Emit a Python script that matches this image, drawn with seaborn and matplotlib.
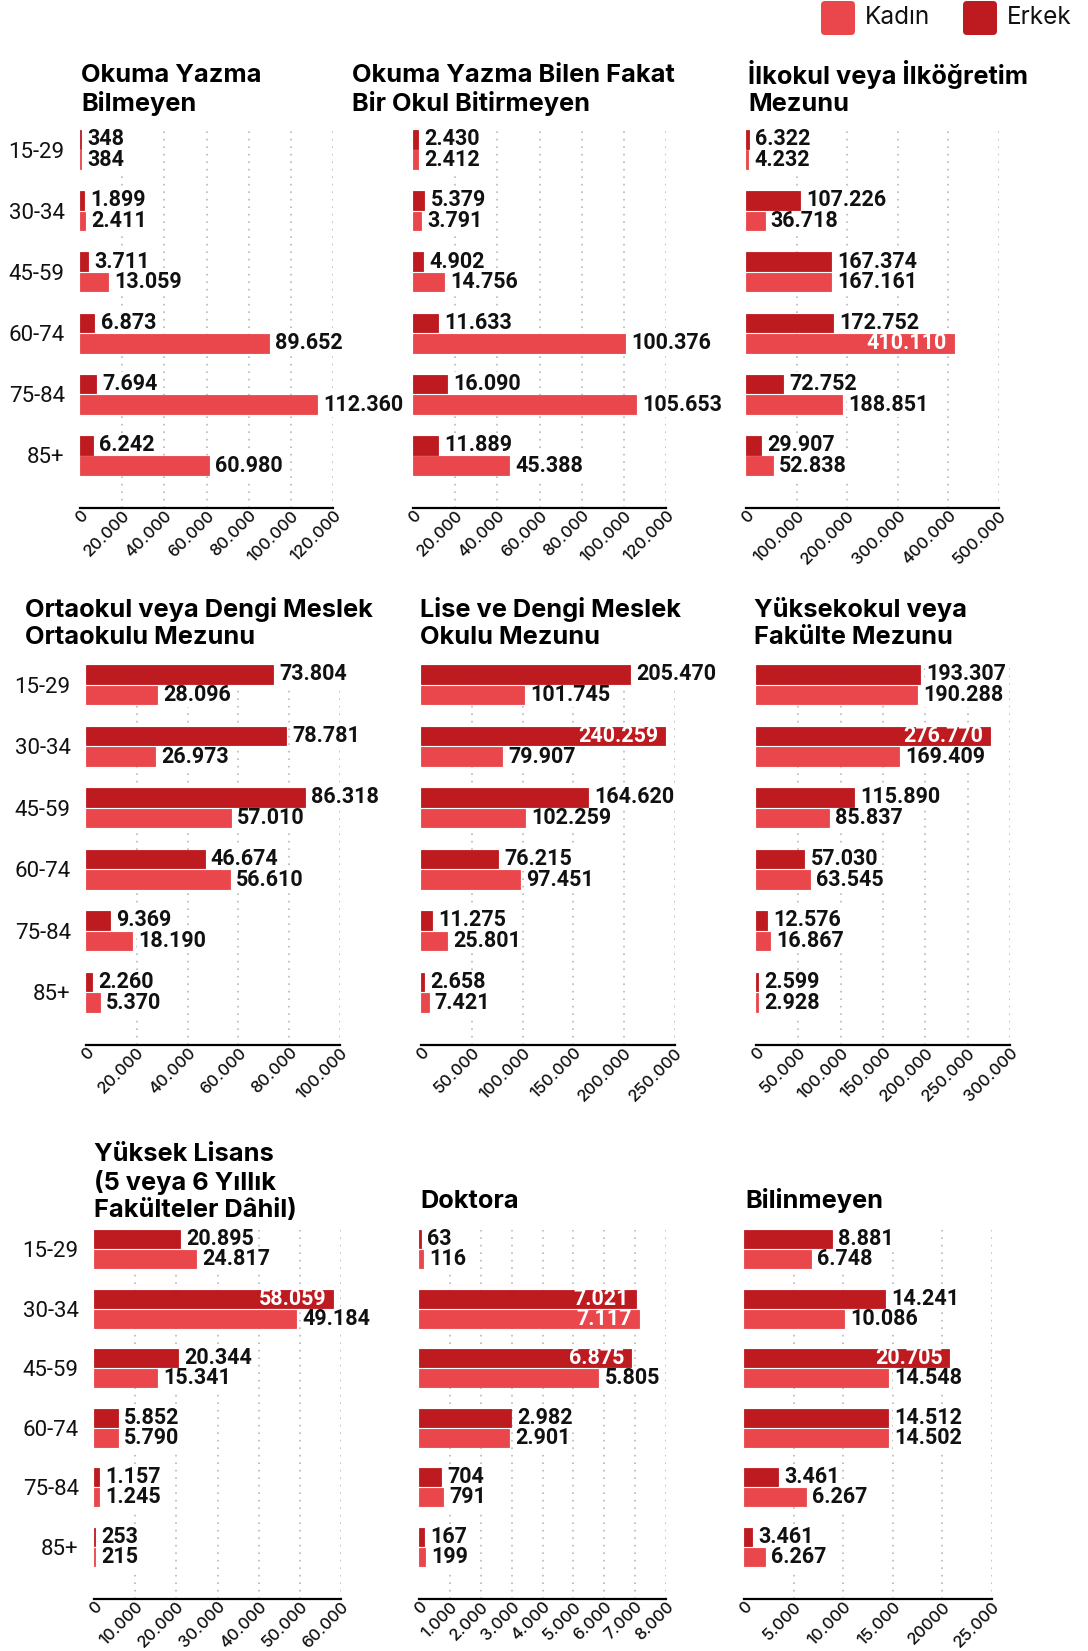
"""
Eğitim durumu ve yaş grubuna göre nüfus (Kadın / Erkek) — 3x3 yatay bar paneli
"""
import numpy as np
import pandas as pd
import matplotlib
matplotlib.use("Agg")
import matplotlib.pyplot as plt
import seaborn as sns
from matplotlib.patches import FancyBboxPatch

sns.set_theme(style="white")
plt.rcParams["font.family"] = ["Roboto", "DejaVu Sans"]

W, H = 1088, 1651
ERKEK = "#BE1B21"
KADIN = "#E9474C"
GRID = "#B8B8B8"
INK = "#111111"
TITLE_FONT = ["Inter", "DejaVu Sans"]
NUM_FONT = ["Roboto", "DejaVu Sans"]

# ── Data ──────────────────────────────────────────────────────────────────────
AGES = ["15-29", "30-34", "45-59", "60-74", "75-84", "85+"]
SEXES = ["Erkek", "Kadın"]

okuma_yazma_bilmeyen_e = [348, 1899, 3711, 6873, 7694, 6242]
okuma_yazma_bilmeyen_k = [384, 2411, 13059, 89652, 112360, 60980]
okul_bitirmeyen_e = [2430, 5379, 4902, 11633, 16090, 11889]
okul_bitirmeyen_k = [2412, 3791, 14756, 100376, 105653, 45388]
ilkokul_e = [6322, 107226, 167374, 172752, 72752, 29907]
ilkokul_k = [4232, 36718, 167161, 410110, 188851, 52838]
ortaokul_e = [73804, 78781, 86318, 46674, 9369, 2260]
ortaokul_k = [28096, 26973, 57010, 56610, 18190, 5370]
lise_e = [205470, 240259, 164620, 76215, 11275, 2658]
lise_k = [101745, 79907, 102259, 97451, 25801, 7421]
fakulte_e = [193307, 276770, 115890, 57030, 12576, 2599]
fakulte_k = [190288, 169409, 85837, 63545, 16867, 2928]
yuksek_lisans_e = [20895, 58059, 20344, 5852, 1157, 253]
yuksek_lisans_k = [24817, 49184, 15341, 5790, 1245, 215]
doktora_e = [63, 7021, 6875, 2982, 704, 167]
doktora_k = [116, 7117, 5805, 2901, 791, 199]
bilinmeyen_e = [8881, 14241, 20705, 14512, 3461, 800]
bilinmeyen_k = [6748, 10086, 14548, 14502, 6267, 2120]
# in the source the 85+ row of "Bilinmeyen" repeats the 75-84 numbers
bilinmeyen_e_labels = ["8.881", "14.241", "20.705", "14.512", "3.461", "3.461"]
bilinmeyen_k_labels = ["6.748", "10.086", "14.548", "14.502", "6.267", "6.267"]
bilinmeyen_ticklabels = ["0", "5.000", "10.000", "15.000", "20000", "25.000"]


def fmt(v):
    return f"{int(v):,}".replace(",", ".")


# ── Layout (pixels) ───────────────────────────────────────────────────────────
# per row: bar top, last bar bottom, axis line
ROWS = [(130, 475, 508), (665, 1012, 1045), (1230, 1566, 1599)]
# t = (x, baseline of the last title line)
PANELS = [
    dict(title="Okuma Yazma\nBilmeyen", e=okuma_yazma_bilmeyen_e, k=okuma_yazma_bilmeyen_k,
         xmax=120000, step=20000, row=0, x=(80, 333), t=(81, 111), ages=True),
    dict(title="Okuma Yazma Bilen Fakat\nBir Okul Bitirmeyen", e=okul_bitirmeyen_e, k=okul_bitirmeyen_k,
         xmax=120000, step=20000, row=0, x=(413, 666), t=(352, 111)),
    dict(title="İlkokul veya İlköğretim\nMezunu", e=ilkokul_e, k=ilkokul_k,
         xmax=500000, step=100000, row=0, x=(746, 999), t=(748, 111), inside=[(1, 3)]),
    dict(title="Ortaokul veya Dengi Meslek\nOrtaokulu Mezunu", e=ortaokul_e, k=ortaokul_k,
         xmax=100000, step=20000, row=1, x=(86, 340), t=(25, 644), ages=True),
    dict(title="Lise ve Dengi Meslek\nOkulu Mezunu", e=lise_e, k=lise_k,
         xmax=250000, step=50000, row=1, x=(421, 675), t=(420, 644), inside=[(0, 1)]),
    dict(title="Yüksekokul veya\nFakülte Mezunu", e=fakulte_e, k=fakulte_k,
         xmax=300000, step=50000, row=1, x=(756, 1010), t=(754, 644), inside=[(0, 1)]),
    dict(title="Yüksek Lisans\n(5 veya 6 Yıllık\nFakülteler Dâhil)", e=yuksek_lisans_e, k=yuksek_lisans_k,
         xmax=60000, step=10000, row=2, x=(94, 341), t=(94, 1217), ages=True, inside=[(0, 1)]),
    dict(title="Doktora", e=doktora_e, k=doktora_k,
         xmax=8000, step=1000, row=2, x=(419, 666), t=(420, 1208), inside=[(0, 1), (1, 1), (0, 2)]),
    dict(title="Bilinmeyen", e=bilinmeyen_e, k=bilinmeyen_k,
         xmax=25000, step=5000, row=2, x=(744, 992), t=(745, 1208), inside=[(0, 2)],
         e_labels=bilinmeyen_e_labels, k_labels=bilinmeyen_k_labels, ticklabels=bilinmeyen_ticklabels),
]

BAR_W, BAR_GAP = 0.67, 0.09
HALF = BAR_W / 2 * (1 - BAR_GAP) / 2 + BAR_W / 4   # edge of outer bar from category centre

fig = plt.figure(figsize=(W / 100, H / 100), dpi=100)

# overlay axes in pixel units for titles and legend
ov = fig.add_axes([0, 0, 1, 1])
ov.set_xlim(0, W); ov.set_ylim(H, 0); ov.axis("off")

for i, (name, col) in enumerate([("Kadın", KADIN), ("Erkek", ERKEK)]):
    x0 = [821, 963][i]
    ov.add_patch(FancyBboxPatch((x0, 1), 34, 34, boxstyle="round,pad=0,rounding_size=4",
                                fc=col, ec="none"))
    ov.text(x0 + 44, 18, name, fontsize=17.5, family=TITLE_FONT, color=INK, va="center", ha="left")

for p in PANELS:
    bar_top, bar_bot, axis_y = ROWS[p["row"]]
    x0, x1 = p["x"]
    ax = fig.add_axes([x0 / W, 1 - axis_y / H, (x1 - x0) / W, (axis_y - bar_top) / H])

    df = pd.DataFrame({"age": AGES * 2,
                       "sex": ["Erkek"] * 6 + ["Kadın"] * 6,
                       "value": p["e"] + p["k"]})
    sns.barplot(data=df, x="value", y="age", hue="sex", order=AGES, hue_order=SEXES,
                palette={"Erkek": ERKEK, "Kadın": KADIN}, orient="h", width=BAR_W, gap=BAR_GAP,
                saturation=1, errorbar=None, legend=False, ax=ax, zorder=3)
    # thin edge so very small values still show as a hairline
    for bar in ax.patches:
        bar.set_edgecolor(bar.get_facecolor())
        bar.set_linewidth(0.6)

    unit = (bar_bot - bar_top) / (5 + 2 * HALF)
    ax.set_ylim(5 + HALF + (axis_y - bar_bot) / unit, -HALF)
    ax.set_xlim(0, p["xmax"])

    ticks = np.arange(0, p["xmax"] + 1, p["step"])
    ax.set_xticks(ticks)
    ax.set_xticklabels(p.get("ticklabels") or [fmt(t) for t in ticks], rotation=45, ha="right",
                       rotation_mode="anchor", fontsize=12, family=TITLE_FONT,
                       fontweight="medium", color=INK)
    for t in ticks[1:]:
        ax.axvline(t, color=GRID, lw=1.2, ls=(0, (1, 3.5)), zorder=0)

    sns.despine(ax=ax, left=True)
    ax.spines["bottom"].set_color("black")
    ax.spines["bottom"].set_linewidth(1.6)
    ax.tick_params(axis="x", direction="in", length=7, width=1.5, color="black", pad=0)
    ax.tick_params(axis="y", length=0, pad=11, labelsize=16, labelcolor=INK)
    ax.set_xlabel(""); ax.set_ylabel("")
    ax.set_facecolor("none")
    if not p.get("ages"):
        ax.set_yticklabels([])

    inside = p.get("inside", [])
    label_sets = [p.get("e_labels") or [fmt(v) for v in p["e"]],
                  p.get("k_labels") or [fmt(v) for v in p["k"]]]
    for s, cont in enumerate(ax.containers):
        bars = sorted(cont, key=lambda b: b.get_y())
        for i, (bar, lab) in enumerate(zip(bars, label_sets[s])):
            y = bar.get_y() + bar.get_height() / 2
            w = bar.get_width()
            if (s, i) in inside:
                ax.annotate(lab, (w, y), xytext=(-5, 0), textcoords="offset points",
                            ha="right", va="center", fontsize=15.5, fontweight="bold",
                            family=NUM_FONT, color="white", zorder=5)
            else:
                ax.annotate(lab, (w, y), xytext=(4.5, 0), textcoords="offset points",
                            ha="left", va="center", fontsize=15.5, fontweight="bold",
                            family=NUM_FONT, color=INK, zorder=2.5,
                            bbox=dict(boxstyle="square,pad=0.05", fc="white", ec="none"))

    ov.text(p["t"][0], p["t"][1], p["title"], fontsize=18.3, fontweight="bold",
            family=TITLE_FONT, color="black", ha="left", va="baseline", linespacing=1.22)

fig.savefig("out.png", dpi=100)
plt.close(fig)
